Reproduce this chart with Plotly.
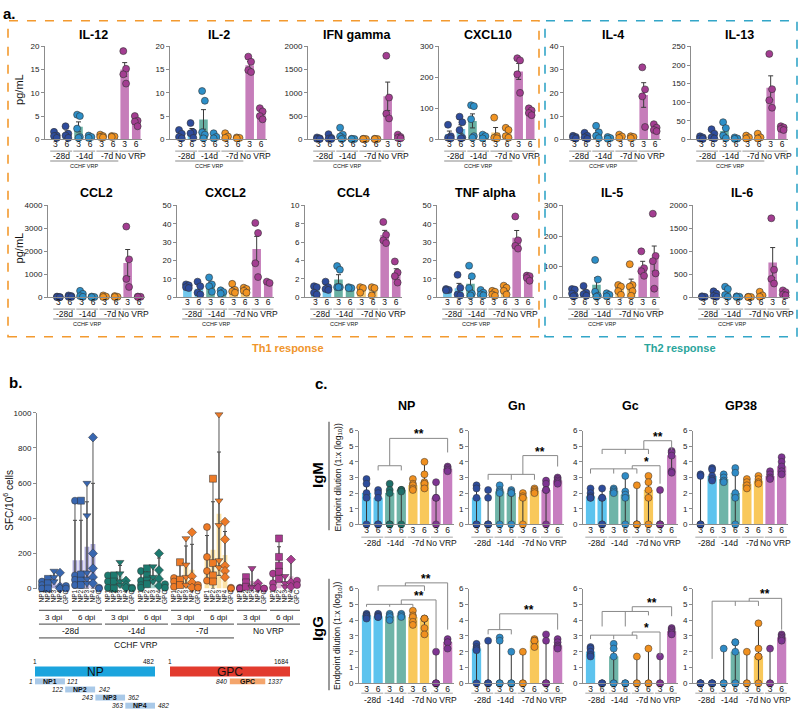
import numpy as np
import plotly.graph_objects as go

W, H = 800, 716
FONT = "Arial, Liberation Sans, sans-serif"

# ---------------- Panel a: cytokines (pg/mL) ----------------
# group order: -28d 3, -28d 6, -14d 3, -14d 6, -7d 3, -7d 6, NoVRP 3, NoVRP 6
A_TIMEPOINTS = ["-28d", "-14d", "-7d", "No VRP"]
A_DPI = ["3", "6"]
A_NAMES = ["IL-12", "IL-2", "IFN gamma", "CXCL10", "IL-4", "IL-13",
           "CCL2", "CXCL2", "CCL4", "TNF alpha", "IL-5", "IL-6"]
IL12 = [[1.6, 0.8, 0.7, 0.3], [2.8, 1.2, 0.8, 0.3], [5.3, 5.0, 2.3, 0.5, 0.3], [0.8, 0.5, 0.3],
        [1.0, 0.7, 0.5, 0.4], [0.7, 0.6, 0.5], [19, 15.2, 14, 12], [5, 4, 3.8, 2.8]]
IL2 = [[2.0, 1.2, 0.5, 0.2], [3.5, 1.5, 1.3, 0.3], [10.4, 8.3, 1.5, 1.0, 0.2], [1.3, 0.5, 0.2],
       [1.3, 0.6, 0.3], [0.4, 0.3, 0.2], [17.8, 16.7, 14.9, 14.5], [6.7, 6.0, 5.0, 4.3]]
IFNG = [[40, 20, 10, 5], [110, 30, 10, 5], [250, 100, 60, 20, 5], [10, 5, 3],
        [10, 5, 3], [10, 5, 3], [1800, 900, 550, 450], [100, 50, 30, 20]]
CXCL10 = [[47, 10, 5, 3], [73, 55, 30, 5, 3], [110, 107, 65, 10, 5], [15, 10, 3],
          [70, 10, 5, 3], [37, 30, 10, 5], [262, 255, 210, 150], [100, 93, 85, 78]]
IL4 = [[1.5, 1.0, 0.8, 0.3], [2.8, 1.5, 0.8, 0.2], [5.8, 3.0, 1.5, 0.5], [1.0, 0.5, 0.2],
       [2.0, 1.2, 0.6], [1.3, 1.0, 0.5], [31, 21.5, 18.5, 5.3], [6.5, 5, 4, 3.5]]
IL13 = [[8, 5, 2, 1], [27, 15, 5, 2], [46, 30, 10, 3], [5, 2, 1],
        [10, 5, 2], [15, 5, 2], [230, 135, 105, 85], [35, 32, 28, 25]]
CCL2 = [[30, 10, 5, 0], [80, 50, 20, 10], [280, 150, 50, 20], [30, 10, 5],
        [80, 30, 10], [50, 20, 10], [3080, 1650, 800, 450], [30, 20, 10]]
CXCL2 = [[7, 6.5, 5.5, 5], [8.5, 6, 2.5, 1.5], [10.8, 7, 6, 3], [3.8, 2.8, 2],
         [7.3, 4, 3.2, 2.5], [5.2, 4.5, 3.5, 2.5], [40.5, 35, 18.5, 11], [8.5, 7.8]]
CCL4 = [[1.2, 1.1, 0.5, 0.3], [1.7, 1.1, 0.9, 0.8], [3.4, 3.0, 1.1, 1.1, 1.1], [1.1, 1.0, 1.0],
        [1.1, 1.0, 0.5], [1.1, 1.0, 0.2], [8.2, 6.8, 6.2, 5.9], [3.9, 2.7, 2.3, 1.6]]
TNFA = [[4.5, 4.0, 3.8], [12.2, 5.2, 1.5, 1.0], [17.2, 11.4, 5.0, 2.0, 1.0], [4.0, 2.5, 1.5, 1.0],
        [3.5, 3.0, 1.5, 0.8], [6.3, 5.2, 3.5, 1.5], [44, 31, 28, 26.5], [11.8, 11.5, 10.5, 9.0]]
IL5 = [[27, 25, 12, 5, 3], [37, 15, 10, 5], [122, 58, 18, 5, 2], [13, 8, 3],
       [40, 35, 20, 8], [108, 40, 35, 20, 5], [150, 95, 85, 70], [273, 135, 118, 78, 28]]
IL6 = [[20, 10, 5], [130, 80, 30, 10], [230, 180, 50, 10], [20, 10, 5],
       [10, 5, 3], [120, 40, 10], [1720, 600, 400, 300], [150, 110, 60, 40]]
A_DATA = [IL12, IL2, IFNG, CXCL10, IL4, IL13, CCL2, CXCL2, CCL4, TNFA, IL5, IL6]
A_YMAX = [20, 20, 2000, 300, 40, 250, 4000, 50, 10, 50, 300, 2000]
A_DTICK = [5, 5, 500, 100, 10, 50, 1000, 10, 2, 10, 100, 500]

# ---------------- Panel b: ELISpot SFC/10^6 cells ----------------
B_PEPTIDES = ["NP1", "NP2", "NP3", "NP4", "GPC"]
B_DPI = ["3 dpi", "6 dpi"]
B_TIMEPOINTS = ["-28d", "-14d", "-7d", "No VRP"]
B_M28_3 = [[40, 20, 0], [55, 30, 0], [100, 65, 40], [90, 10, 0], [15, 0]]
B_M28_6 = [[500, 75, 50, 20], [500, 80, 45, 20], [600, 415, 90, 55, 30], [860, 200, 115, 65, 30], [5, 0]]
B_M14_3 = [[75, 40, 5], [75, 40, 0], [150, 85, 40, 20], [45, 20, 5], [5, 0]]
B_M14_6 = [[100, 45, 20, 5], [115, 75, 45, 25], [125, 65, 40], [200, 105, 55, 15], [25, 5]]
B_M7_3 = [[60, 40, 10], [150, 50, 20], [285, 135, 65, 20], [320, 70, 35, 5], [20, 5]]
B_M7_6 = [[350, 180, 100, 45], [625, 145, 75, 40], [990, 500, 360, 160, 120], [380, 280, 130, 100, 65], [5, 0]]
B_NV_3 = [[5, 0, 0], [65, 35, 10], [115, 10, 5], [30, 5], [0, 0]]
B_NV_6 = [[85, 30, 5], [285, 180, 130, 95, 55], [70, 30, 10], [165, 35, 10], [45, 20]]
B_GROUPS = [B_M28_3, B_M28_6, B_M14_3, B_M14_6, B_M7_3, B_M7_6, B_NV_3, B_NV_6]

# gene map (residues)
NP_LEN = 482
GPC_LEN = 1684
NP_SEGMENTS = [("NP1", 1, 121), ("NP2", 122, 242), ("NP3", 243, 362), ("NP4", 363, 482)]
GPC_SEGMENT = ("GPC", 840, 1337)

# ---------------- Panel c: endpoint dilution (log10) ----------------
C_ANTIGENS = ["NP", "Gn", "Gc", "GP38"]
C_ISOTYPES = ["IgM", "IgG"]
IGM_NP = [[2.9, 2.6, 2.0, 1.7, 0], [2.2, 2.0, 1.7, 0, 0], [2.6, 2.2, 2.0, 0, 0], [2.2, 2.2, 2.2, 2.1, 0],
          [2.9, 2.6, 2.5, 2.3, 2.2], [4.0, 3.2, 2.7, 2.6, 2.3], [2.7, 1.7, 1.7, 0], [3.7, 3.6, 3.5, 3.4]]
IGM_GN = [[2.5, 2.3, 1.7, 0, 0], [2.2, 1.7, 0, 0, 0], [2.5, 2.2, 2.1, 2.0, 0], [2.2, 2.1, 2.0, 2.0, 0],
          [2.0, 1.8, 1.7, 0], [2.3, 2.2, 2.1, 2.0], [2.8, 2.6, 2.2, 2.2, 0], [3.0, 2.9, 2.8, 2.7, 2.6]]
IGM_GC = [[2.3, 2.0, 1.8, 1.7, 1.7], [2.3, 1.7, 1.7, 0, 0], [2.3, 2.2, 2.1, 2.0], [3.1, 2.1, 1.9, 1.7, 0],
          [2.5, 0, 0, 0], [3.1, 2.7, 2.2, 1.7, 0], [2.2, 0, 0, 0], [4.7, 4.6, 4.4, 3.4, 3.3]]
IGM_GP38 = [[3.2, 3.1, 0, 0, 0], [3.6, 3.5, 3.1, 2.9, 2.8], [3.2, 3.0, 2.8, 2.7], [3.6, 3.3, 2.0, 1.7, 0],
            [2.9, 2.7, 2.5, 2.3], [3.1, 2.9, 2.7, 2.6], [3.4, 3.2, 3.0, 2.9], [4.3, 4.0, 3.7, 3.4, 3.2]]
IGG_NP = [[4.4, 4.3, 4.3, 4.2, 4.1], [4.4, 4.3, 4.2, 4.2], [4.4, 4.3, 4.2, 4.0], [4.4, 4.3, 4.2],
          [4.6, 4.3, 4.2, 3.9, 3.7], [4.1, 4.1, 4.1, 3.5, 3.1], [2.0, 0, 0, 0], [2.8, 2.6, 2.6, 2.2]]
IGG_GN = [[2.5, 2.3, 2.2, 2.1, 0], [2.7, 0, 0, 0], [2.9, 2.7, 0, 0, 0], [2.0, 0, 0, 0],
          [2.0, 0, 0], [2.8, 2.7, 2.7, 2.3], [3.1, 2.7, 0, 0, 0], [2.8, 2.6, 2.4, 2.3, 2.2]]
IGG_GC = [[2.3, 2.2, 2.0, 1.8, 1.7], [0, 0, 0], [2.5, 2.2, 1.7, 0, 0], [0, 0, 0],
          [1.7, 0, 0], [2.2, 0, 0], [1.7, 0, 0], [3.5, 3.4, 3.3, 3.2, 3.1]]
IGG_GP38 = [[0, 0, 0, 0], [0, 0, 0, 0], [2.2, 0, 0], [2.6, 2.6, 2.0, 0, 0],
            [2.0, 0, 0], [3.8, 2.2, 1.7, 1.7, 0], [2.2, 0, 0], [3.1, 3.0, 2.9, 2.8, 2.7]]
C_DATA = [[IGM_NP, IGM_GN, IGM_GC, IGM_GP38], [IGG_NP, IGG_GN, IGG_GC, IGG_GP38]]

# significance comparisons (group indices / log10 levels)
C_SIG = {
    (0, 0): [dict(ticks=[(1, 3.45), (3, 3.45)], y=3.75, cx=2, top=5.5, rx=7, ry=4.6, star="**")],
    (0, 1): [dict(ticks=[(1, 2.85), (3, 2.85), (5, 2.85)], y=3.2, cx=4, top=4.4, rx=7, ry=3.7, star="**")],
    (0, 2): [dict(ticks=[(0, 3.25), (2, 3.25), (4, 3.25)], y=3.55, cx=3.6, top=3.75, rx=6, ry=2.6, star="*"),
             dict(ticks=[(1, 4.5), (3, 4.5), (5, 4.5)], y=4.8, cx=4.6, top=5.35, rx=7, ry=4.75, star="**")],
    (1, 0): [dict(ticks=[(0, 4.85), (2, 4.85), (4, 4.85)], y=5.0, cx=3, top=5.28, rx=6, ry=2.2, star="**"),
             dict(ticks=[(1, 5.86), (5, 5.86)], y=6.17, cx=3.35, top=6.36, rx=7, ry=3.4, star="**")],
    (1, 1): [dict(ticks=[(1, 3.1), (3, 3.1)], y=3.4, cx=2, top=4.4, rx=7, ry=3.4, star="**")],
    (1, 2): [dict(ticks=[(0, 2.8), (2, 2.8), (4, 2.8)], y=3.05, cx=3.6, top=3.25, rx=6, ry=1.75, star="*"),
             dict(ticks=[(1, 3.6), (3, 3.6), (5, 4.3)], y=4.55, cx=3.6, top=4.85, rx=7, ry=4.25, star="**")],
    (1, 3): [dict(ticks=[(1, 1.55), (3, 4.9), (5, 4.9)], y=5.2, cx=4.2, top=5.38, rx=7, ry=3.4, star="**")],
}

# ---------------- styles ----------------
A_BAR_COLORS = ["#72C7EC", "#68B0A3", "#F8CC7A", "#C67DBA"]
A_PT_COLORS = ["#2E4C9C", "#2D8FC8", "#F29422", "#A33D91"]
B_BAR_COLORS = ["#ABA8D8", "#A3D3CC", "#FBE2A5", "#E8B3D8"]
B_PT_COLORS = ["#3866B0", "#1C7A6F", "#EE7A26", "#A8398F"]
B_SYMBOLS = ["circle", "square", "triangle-down", "diamond", "circle"]
C_BAR_COLORS = ["#5DC3EE", "#6FB4A8", "#F9C85A", "#C77EC0"]
C_PT_COLORS = ["#2D4C9B", "#2F8BC6", "#F0901F", "#7D3491"]
AXC = "#8c8c8c"

fig = go.Figure()
layout = {}
shapes = []
annos = []
nax = [0]


def make_axes(x0, x1, ytop, ybot, xr, yr, xkw=None, ykw=None):
    nax[0] += 1
    k = nax[0]
    s = "" if k == 1 else str(k)
    xid, yid = "x" + s, "y" + s
    xa = dict(domain=[x0 / W, x1 / W], range=xr, anchor=yid, showgrid=False, zeroline=False,
              fixedrange=True, showline=True, linecolor=AXC, linewidth=1, ticks="", ticklen=0,
              ticklabelstandoff=-3, tickfont=dict(size=8.5, color="#111", family=FONT))
    ya = dict(domain=[1 - ybot / H, 1 - ytop / H], range=yr, anchor=xid, showgrid=False, zeroline=False,
              fixedrange=True, showline=True, linecolor=AXC, linewidth=1, ticks="outside",
              ticklen=3, tickcolor=AXC, tickwidth=1, tickfont=dict(size=8, color="#222", family=FONT))
    if xkw:
        xa.update(xkw)
    if ykw:
        ya.update(ykw)
    layout["xaxis" + s] = xa
    layout["yaxis" + s] = ya

    def X(v):
        return x0 + (v - xr[0]) / (xr[1] - xr[0]) * (x1 - x0)

    def Y(v):
        return ybot - (v - yr[0]) / (yr[1] - yr[0]) * (ybot - ytop)

    return xid, yid, X, Y


def seg(x0, y0, x1, y1, color="#888", width=1, dash=None):
    ln = dict(color=color, width=width)
    if dash:
        ln["dash"] = dash
    shapes.append(dict(type="line", xref="paper", yref="paper", x0=x0 / W, y0=1 - y0 / H,
                       x1=x1 / W, y1=1 - y1 / H, line=ln))


def rect(x0, y0, x1, y1, fill, line_color=None, dash=None, width=0):
    ln = dict(width=width, color=line_color or fill)
    if dash:
        ln["dash"] = dash
    shapes.append(dict(type="rect", xref="paper", yref="paper", x0=x0 / W, y0=1 - y1 / H,
                       x1=x1 / W, y1=1 - y0 / H, fillcolor=fill, line=ln))


def text(x, y, s, size=9, color="#111", bold=False, italic=False, angle=0, xanchor="center", yanchor="middle"):
    if bold:
        s = "<b>" + s + "</b>"
    if italic:
        s = "<i>" + s + "</i>"
    annos.append(dict(x=x / W, y=1 - y / H, xref="paper", yref="paper", text=s, showarrow=False,
                      font=dict(size=size, color=color, family=FONT), textangle=angle,
                      xanchor=xanchor, yanchor=yanchor, borderpad=0))


# ---------------- draw panel a ----------------
A_AXIS_X = [45, 170, 308, 439, 564, 691, 48, 177, 305, 437, 563, 693]
A_ROWS = [(43, 137), (204, 297)]
A_TITLE_Y = [31, 191]
A_LBL_Y = [(149, 154, 159, 164), (309, 314, 319, 324)]
OFFS = [-0.12, 0.12, -0.12, 0.12, 0.0]

for i, (name, data) in enumerate(zip(A_NAMES, A_DATA)):
    row = i // 6
    x0 = A_AXIS_X[i]
    ytop, ybot = A_ROWS[row]
    ymax = A_YMAX[i]
    xid, yid, X, Y = make_axes(
        x0, x0 + 97, ytop, ybot, [-0.9, 7.5], [0, ymax],
        xkw=dict(tickvals=list(range(8)), ticktext=A_DPI * 4),
        ykw=dict(tickvals=list(np.arange(0, ymax + 1e-9, A_DTICK[i]))))
    means = [float(np.mean(v)) for v in data]
    sems = [float(np.std(v, ddof=1) / np.sqrt(len(v))) for v in data]
    fig.add_trace(go.Bar(x=list(range(8)), y=means, width=0.74,
                         marker=dict(color=[A_BAR_COLORS[g // 2] for g in range(8)], line=dict(width=0)),
                         error_y=dict(type="data", array=sems, color="#3a3a3a", thickness=1, width=2.5),
                         xaxis=xid, yaxis=yid, hoverinfo="skip", showlegend=False))
    xs, ys, cs = [], [], []
    for g, vals in enumerate(data):
        for k, v in enumerate(vals):
            xs.append(g + OFFS[k % len(OFFS)])
            ys.append(v)
            cs.append(A_PT_COLORS[g // 2])
    fig.add_trace(go.Scatter(x=xs, y=ys, mode="markers", cliponaxis=False,
                             marker=dict(size=7, color=cs, line=dict(color="#333", width=0.6)),
                             xaxis=xid, yaxis=yid, hoverinfo="skip", showlegend=False))
    text((X(-0.9) + X(7.5)) / 2, A_TITLE_Y[row], name, size=12.5, bold=True, color="#000")
    u1, gy, u2, cy = A_LBL_Y[row]
    for k, tp in enumerate(A_TIMEPOINTS):
        seg(X(2 * k - 0.45), u1, X(2 * k + 1.45), u1, color="#b0b0b0", width=1.3)
        text(X(2 * k + 0.5), gy, tp, size=8.5, color="#111")
    seg(X(-0.45), u2, X(5.45), u2, color="#b0b0b0", width=1.3)
    text(X(2.5), cy, "CCHF VRP", size=5.5, color="#111")
    if i % 6 == 0:
        text(19, (ytop + ybot) / 2 - 3, "pg/mL", size=11, angle=-90, color="#111")

# boxes + response labels
rect(8, 17, 539, 337, "rgba(0,0,0,0)", line_color="#F39A2F", dash="dash", width=1.6)
rect(545, 17, 797, 337, "rgba(0,0,0,0)", line_color="#33A6C8", dash="dash", width=1.6)
text(288, 348, "Th1 response", size=11, bold=True, color="#F0952B")
text(680, 348, "Th2 response", size=11, bold=True, color="#2AA59B")
text(2, 10, "a.", size=15, bold=True, color="#000", xanchor="left")

# ---------------- draw panel b ----------------
def bpos(g, i):
    return g * 5.5 + i

xid, yid, X, Y = make_axes(
    37, 303, 414, 592, [-0.83, 43.5], [0, 1000],
    xkw=dict(tickvals=[bpos(g, i) for g in range(8) for i in range(5)],
             ticktext=B_PEPTIDES * 8, tickangle=-90, showline=False, ticklabelstandoff=-1,
             tickfont=dict(size=6.5, color="#111", family=FONT)),
    ykw=dict(tickvals=[0, 200, 400, 600, 800, 1000]))

for t in range(4):
    xsb, means, sd_p, sd_m = [], [], [], []
    lx, ly = [], []
    px_, py_, sym = [], [], []
    for g in (2 * t, 2 * t + 1):
        for i, vals in enumerate(B_GROUPS[g]):
            p = bpos(g, i)
            m = float(np.mean(vals))
            s = float(np.std(vals, ddof=1)) if len(vals) > 1 else 0.0
            xsb.append(p)
            means.append(m)
            sd_p.append(s)
            sd_m.append(min(s, m))
            lx += [p, p, None]
            ly += [min(vals), max(vals), None]
            for v in vals:
                px_.append(p)
                py_.append(v)
                sym.append(B_SYMBOLS[i])
    fig.add_trace(go.Bar(x=xsb, y=means, width=0.8, marker=dict(color=B_BAR_COLORS[t], line=dict(width=0)),
                         error_y=dict(type="data", array=sd_p, arrayminus=sd_m, color="#444", thickness=1, width=2),
                         xaxis=xid, yaxis=yid, hoverinfo="skip", showlegend=False))
    fig.add_trace(go.Scatter(x=lx, y=ly, mode="lines", line=dict(color="#555", width=1),
                             xaxis=xid, yaxis=yid, hoverinfo="skip", showlegend=False))
    fig.add_trace(go.Scatter(x=px_, y=py_, mode="markers", cliponaxis=False,
                             marker=dict(size=7, color=B_PT_COLORS[t], symbol=sym,
                                         line=dict(color="#333", width=0.5)),
                             xaxis=xid, yaxis=yid, hoverinfo="skip", showlegend=False))

for g in range(8):
    seg(X(bpos(g, 0) - 0.5), 614, X(bpos(g, 4) + 0.5), 614, color="#444", width=1)
    text(X(bpos(g, 2)), 621, B_DPI[g % 2], size=8)
for t in range(4):
    seg(X(bpos(2 * t, 0) - 0.5), 628, X(bpos(2 * t + 1, 4) + 0.5), 628, color="#444", width=1)
    text(X((bpos(2 * t, 0) + bpos(2 * t + 1, 4)) / 2), 635, B_TIMEPOINTS[t], size=8.5)
seg(X(bpos(0, 0) - 0.5), 642, X(bpos(5, 4) + 0.5), 642, color="#444", width=1)
text(X((bpos(0, 0) + bpos(5, 4)) / 2), 649, "CCHF VRP", size=8.5)
text(8, 503, "SFC/10<sup>6</sup> cells", size=10, angle=-90)
text(8, 383, "b.", size=15, bold=True, color="#000", xanchor="left")


# gene map
def np_px(r):
    return 35 + (r - 1) / (NP_LEN - 1) * 120


def gpc_px(r):
    return 170 + (r - 1) / (GPC_LEN - 1) * 120


rect(np_px(1), 671, np_px(NP_LEN), 681, "#1BA4DD")
text((np_px(1) + np_px(NP_LEN)) / 2, 676, "NP", size=12, color="#111")
text(np_px(1), 666, "1", size=6.5, xanchor="center")
text(np_px(NP_LEN), 666, str(NP_LEN), size=6.5, xanchor="right")
rect(gpc_px(1), 671, gpc_px(GPC_LEN), 681, "#E23B2E")
text((gpc_px(1) + gpc_px(GPC_LEN)) / 2, 676, "GPC", size=12, color="#111")
text(gpc_px(1), 666, "1", size=6.5, xanchor="center")
text(gpc_px(GPC_LEN), 666, str(GPC_LEN), size=6.5, xanchor="right")
for j, (nm, a, b) in enumerate(NP_SEGMENTS):
    yc = 686 + j * 8.2
    rect(np_px(a), yc - 3, np_px(b), yc + 3, "#A9C9E8")
    text((np_px(a) + np_px(b)) / 2, yc, nm, size=7, bold=True)
    text(np_px(a) - 1.5, yc, str(a), size=6.5, italic=True, xanchor="right")
    text(np_px(b) + 1.5, yc, str(b), size=6.5, italic=True, xanchor="left")
nm, a, b = GPC_SEGMENT
rect(gpc_px(a), 683, gpc_px(b), 689, "#F4A56C")
text((gpc_px(a) + gpc_px(b)) / 2, 686, nm, size=7, bold=True)
text(gpc_px(a) - 1.5, 686, str(a), size=6.5, italic=True, xanchor="right")
text(gpc_px(b) + 1.5, 686, str(b), size=6.5, italic=True, xanchor="left")

# ---------------- draw panel c ----------------
C_AXIS_X = [359, 469, 583, 693]
C_ROWS = [(432, 527), (592, 688)]
C_LBL_Y = [(540, 546), (698, 705)]

for r in range(2):
    for c in range(4):
        data = C_DATA[r][c]
        ytop, ybot = C_ROWS[r]
        x0 = C_AXIS_X[c]
        xid, yid, X, Y = make_axes(
            x0, x0 + 95, ytop, ybot, [-0.65, 7.55], [0, 6],
            xkw=dict(tickvals=list(range(8)), ticktext=A_DPI * 4),
            ykw=dict(tickvals=list(range(7))))
        med = [float(np.median(v)) for v in data]
        ep = [max(v) - m for v, m in zip(data, med)]
        em = [m - min(v) for v, m in zip(data, med)]
        fig.add_trace(go.Bar(x=list(range(8)), y=med, width=0.8,
                             marker=dict(color=[C_BAR_COLORS[g // 2] for g in range(8)], line=dict(width=0)),
                             error_y=dict(type="data", array=ep, arrayminus=em, color="#333", thickness=1, width=2.5),
                             xaxis=xid, yaxis=yid, hoverinfo="skip", showlegend=False))
        xs, ys, cs = [], [], []
        for g, vals in enumerate(data):
            col = C_PT_COLORS[g // 2]
            if r == 0 and c == 0 and g // 2 == 1:
                col = "#1E6F69"
            for v in vals:
                xs.append(g)
                ys.append(v)
                cs.append(col)
        fig.add_trace(go.Scatter(x=xs, y=ys, mode="markers", cliponaxis=False,
                                 marker=dict(size=7, color=cs, line=dict(color="#333", width=0.5)),
                                 xaxis=xid, yaxis=yid, hoverinfo="skip", showlegend=False))
        uy, gy = C_LBL_Y[r]
        for k, tp in enumerate(A_TIMEPOINTS):
            seg(X(2 * k - 0.45), uy, X(2 * k + 1.45), uy, color="#bdbdbd", width=1.4)
            text(X(2 * k + 0.5), gy, tp, size=8.5)
        if r == 0:
            text((X(-0.65) + X(7.55)) / 2, 407, C_ANTIGENS[c], size=12.5, bold=True, color="#000")
        if c == 0:
            text(338, (ytop + ybot) / 2, "Endpoint dilution (1:x (log<sub>10</sub>))", size=8.5, angle=-90)
        for bk in C_SIG.get((r, c), []):
            tx = [t[0] for t in bk["ticks"]]
            seg(X(min(tx)), Y(bk["y"]), X(max(tx)), Y(bk["y"]))
            for t0, tb in bk["ticks"]:
                seg(X(t0), Y(bk["y"]), X(t0), Y(tb))
            seg(X(bk["cx"]), Y(bk["y"]), X(bk["cx"]), Y(bk["top"]))
            seg(X(bk["cx"]), Y(bk["top"]), X(bk["rx"]), Y(bk["top"]))
            seg(X(bk["rx"]), Y(bk["top"]), X(bk["rx"]), Y(bk["ry"]))
            text(X((bk["cx"] + bk["rx"]) / 2), Y(bk["top"]) + 4, bk["star"], size=12, bold=True,
                 color="#000", yanchor="bottom")

text(317, 477, "IgM", size=15, bold=True, angle=-90, color="#000")
seg(329, 423, 329, 533, color="#9a9a9a", width=2)
text(317, 633, "IgG", size=15, bold=True, angle=-90, color="#000")
seg(329, 582, 329, 695, color="#9a9a9a", width=2)
text(314, 384, "c.", size=15, bold=True, color="#000", xanchor="left")

layout.update(dict(width=W, height=H, margin=dict(l=0, r=0, t=0, b=0),
                   paper_bgcolor="white", plot_bgcolor="white", showlegend=False,
                   font=dict(family=FONT, color="#111"), shapes=shapes, annotations=annos,
                   bargap=0.1))
fig.update_layout(**layout)
fig.write_html("out.html", config={"displayModeBar": False},
               post_script="document.body.style.margin='0';document.body.style.padding='0';"
                           "document.body.style.overflow='hidden';")
